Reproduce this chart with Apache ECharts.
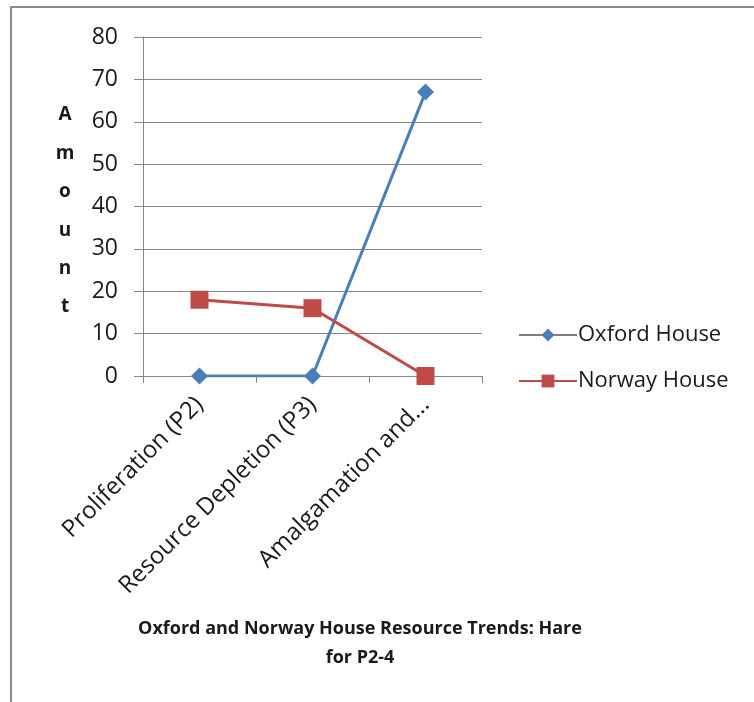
<!DOCTYPE html>
<html><head><meta charset="utf-8">
<script src="https://cdn.jsdelivr.net/npm/echarts@6/dist/echarts.min.js"></script>
<style>html,body{margin:0;padding:0;background:#fff}#c{width:754px;height:702px}</style>
</head><body><div id="c"></div>
<script>
const categories = ['Proliferation (P2)', 'Resource Depletion (P3)', 'Amalgamation and...'];
const oxfordHouse = [0, 0, 67];
const norwayHouse = [18, 16, 0];
const yTicks = {min: 0, max: 80, interval: 10};
const titleText = 'Oxford and Norway House Resource Trends: Hare\nfor P2-4';
const yName = 'A\nm\no\nu\nn\nt';

const FONT = 'Open Sans';
const chart = echarts.init(document.getElementById('c'));
chart.setOption({
  backgroundColor: '#fff',
  animation: false,
  textStyle: {fontFamily: FONT},
  graphic: [
    {type: 'line', shape: {x1: 11, y1: 7, x2: 754, y2: 7}, style: {stroke: '#8a8a8a', lineWidth: 2}, silent: true},
    {type: 'line', shape: {x1: 11, y1: 6, x2: 11, y2: 702}, style: {stroke: '#8a8a8a', lineWidth: 2}, silent: true},
    {type: 'text', x: 65, y: 211, silent: true,
     style: {text: yName, font: 'bold 19px "Open Sans"', fill: '#1a1a1a', align: 'center', verticalAlign: 'middle', lineHeight: 38.4}}
  ],
  title: {
    text: titleText, left: 355, textAlign: 'center', top: 609,
    textStyle: {fontFamily: FONT, fontSize: 18, fontWeight: 'bold', color: '#1a1a1a', lineHeight: 29}
  },
  legend: {
    orient: 'vertical', left: 513, top: 319, itemGap: 24, itemWidth: 58, itemHeight: 16,
    textStyle: {fontFamily: FONT, fontSize: 22, color: '#1a1a1a', padding: [0, 0, 0, -4]},
    data: [
      {name: 'Oxford House', lineStyle: {color: '#7f7f7f'}},
      {name: 'Norway House'}
    ]
  },
  grid: {left: 143, right: 272, top: 37, bottom: 326, containLabel: false},
  xAxis: {
    type: 'category', data: categories, boundaryGap: true,
    axisLine: {lineStyle: {color: '#868686', width: 1}},
    axisTick: {show: true, length: 7, lineStyle: {color: '#868686'}},
    axisLabel: {rotate: 45, fontFamily: FONT, fontSize: 24, color: '#1a1a1a', margin: 25, interval: 0}
  },
  yAxis: {
    type: 'value', min: yTicks.min, max: yTicks.max, interval: yTicks.interval,
    axisLine: {show: true, lineStyle: {color: '#868686'}},
    axisTick: {show: true, length: 9, lineStyle: {color: '#868686'}},
    splitLine: {lineStyle: {color: '#868686'}},
    axisLabel: {fontFamily: FONT, fontSize: 23, color: '#1a1a1a', margin: 25}
  },
  series: [
    {name: 'Oxford House', type: 'line', data: oxfordHouse, symbol: 'diamond', symbolSize: 17,
     lineStyle: {color: '#4a7ebb', width: 3}, itemStyle: {color: '#4a7ebb'}},
    {name: 'Norway House', type: 'line', data: norwayHouse, symbol: 'rect', symbolSize: 18,
     lineStyle: {color: '#be4b48', width: 3}, itemStyle: {color: '#be4b48'}}
  ]
});
</script></body></html>
